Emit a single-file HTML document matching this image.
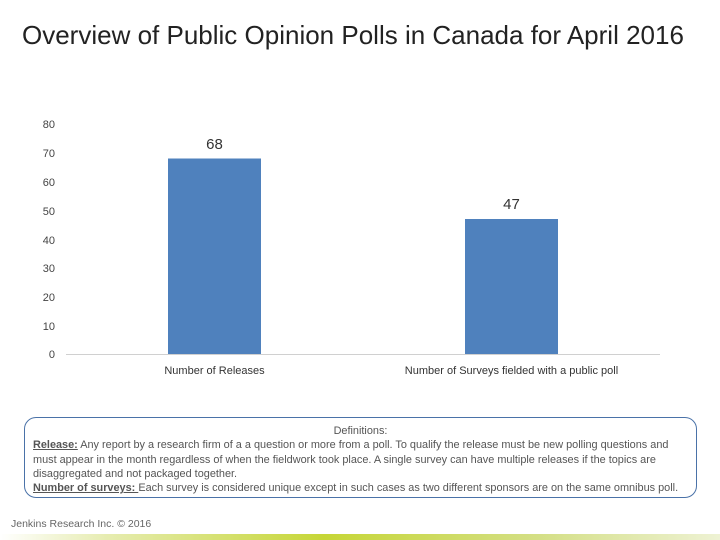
<!DOCTYPE html>
<html><head><style>
body{margin:0;width:720px;height:540px;background:#fff;position:relative;overflow:hidden;font-family:"Liberation Sans",sans-serif}
.t{position:absolute;left:22px;top:20px;font-size:26px;color:#222;white-space:nowrap;letter-spacing:0px}
.box{position:absolute;left:24px;top:417px;width:673px;height:81px;border:1px solid #4a72a8;border-radius:12px;box-sizing:border-box;font-size:10.9px;color:#555;line-height:14.3px;padding:6px 8px 0;white-space:nowrap}
.box b{font-weight:bold;text-decoration:underline}
.foot{position:absolute;left:11px;top:518px;font-size:10.5px;color:#666}
.grad{position:absolute;left:0;top:534px;width:720px;height:6px;background:linear-gradient(90deg,#fff 0%,#e6ecb0 15%,#c6d636 45%,#d4df86 75%,#eef2d4 100%)}
</style></head><body>
<div class="t">Overview of Public Opinion Polls in Canada for April 2016</div>
<svg width="720" height="400" style="position:absolute;left:0;top:0" font-family="Liberation Sans, sans-serif">
<g font-size="11" fill="#444" text-anchor="end">
<text x="55" y="128">80</text><text x="55" y="157">70</text><text x="55" y="186">60</text><text x="55" y="215">50</text><text x="55" y="244">40</text><text x="55" y="272">30</text><text x="55" y="301">20</text><text x="55" y="330">10</text><text x="55" y="358">0</text>
</g>
<line x1="66" y1="354.5" x2="660" y2="354.5" stroke="#d0d0d0"/>
<rect x="168" y="158.5" width="93" height="195.5" fill="#4f81bd"/>
<rect x="465" y="219" width="93" height="135" fill="#4f81bd"/>
<g font-size="15" fill="#333" text-anchor="middle"><text x="214.5" y="149">68</text><text x="511.5" y="209">47</text></g>
<g font-size="11" fill="#333" text-anchor="middle"><text x="214.5" y="374">Number  of Releases</text><text x="511.5" y="374">Number of Surveys fielded with a public poll</text></g>
</svg>
<div class="box"><div style="text-align:center">Definitions:</div>
<b>Release:</b> Any report by a research firm of a a question or more from a poll. To qualify the release must be new polling questions and<br>must appear in the month regardless of when the fieldwork took place. A single survey can have multiple releases if the topics are<br>disaggregated and not packaged together.<br>
<b>Number of surveys: </b>Each survey is considered unique except in such cases as two different sponsors are on the same omnibus poll.</div>
<div class="foot">Jenkins Research Inc. © 2016</div>
<div class="grad"></div>
</body></html>
